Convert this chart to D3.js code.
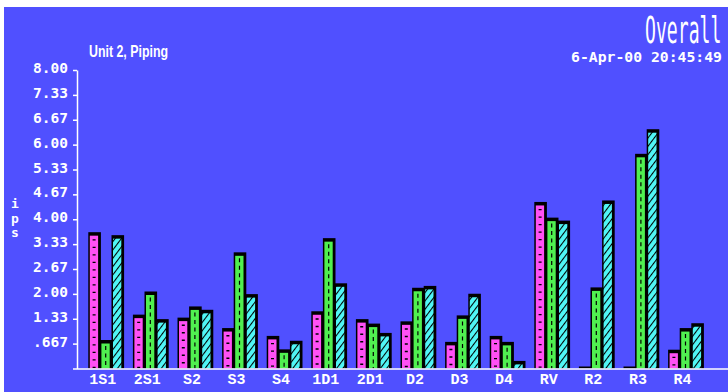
<!DOCTYPE html>
<html>
<head>
<meta charset="utf-8">
<script src="https://cdn.jsdelivr.net/npm/d3@7"></script>
<style>
  html, body { margin: 0; padding: 0; background: #ffffff; }
  svg { display: block; }
</style>
</head>
<body>
<svg id="chart" width="728" height="392"></svg>
<script>
// Measurement points along the piping run
const categories = ["1S1", "2S1", "S2", "S3", "S4", "1D1", "2D1", "D2", "D3", "D4", "RV", "R2", "R3", "R4"];

// Overall vibration (ips) for the three measurement directions
const seriesA = [3.60, 1.39, 1.31, 1.03, 0.82, 1.48, 1.27, 1.21, 0.66, 0.82, 4.41, 0.00, 0.00, 0.45];
const seriesB = [0.71, 2.01, 1.61, 3.06, 0.46, 3.44, 1.15, 2.11, 1.37, 0.66, 3.99, 2.12, 5.70, 1.03];
const seriesC = [3.52, 1.27, 1.52, 1.94, 0.69, 2.23, 0.90, 2.16, 1.95, 0.15, 3.91, 4.45, 6.36, 1.16];

const tickValues = [0.667, 1.333, 2.0, 2.667, 3.333, 4.0, 4.667, 5.333, 6.0, 6.667, 7.333, 8.0];
const tickLabels = [".667", "1.33", "2.00", "2.67", "3.33", "4.00", "4.67", "5.33", "6.00", "6.67", "7.33", "8.00"];

const series = [seriesA, seriesB, seriesC];
const fills = ["#ff50f4", "#50f050", "#50f6f6"];
const BG = "#5050ff";

const svg = d3.select("#chart");

// Screen background
svg.append("rect").attr("x", 4).attr("y", 7).attr("width", 724).attr("height", 385).attr("fill", BG);

// Diagonal hatch for the third series
const defs = svg.append("defs");
const hatch = defs.append("pattern")
  .attr("id", "hatch")
  .attr("patternUnits", "userSpaceOnUse")
  .attr("width", 5).attr("height", 10)
  .attr("patternTransform", "rotate(37)");
hatch.append("rect").attr("width", 5).attr("height", 10).attr("fill", fills[2]);
hatch.append("line").attr("x1", 0.5).attr("y1", 0).attr("x2", 0.5).attr("y2", 10)
  .attr("stroke", "#000").attr("stroke-width", 1.1);

const axisX = 77;
const baseY = 368.5;

const y = d3.scaleLinear().domain([0, 8]).range([baseY, 70]);

const x0 = d3.scaleBand()
  .domain(d3.range(categories.length))
  .range([83.4, 707.8])
  .paddingInner(0.22)
  .paddingOuter(0.11);

const x1 = d3.scaleBand().domain([0, 1, 2]).range([0, x0.bandwidth()]);

// Bars: one record per category/series
const bars = [];
categories.forEach((c, i) => {
  series.forEach((s, k) => bars.push({ i, k, v: s[i] }));
});

const g = svg.append("g");
const bw = x1.bandwidth();

const barG = g.selectAll("g.bar").data(bars).join("g").attr("class", "bar");

// black outline with heavy top edge
barG.append("rect")
  .attr("x", d => x0(d.i) + x1(d.k))
  .attr("y", d => y(d.v) - 2)
  .attr("width", bw + 1)
  .attr("height", d => baseY - y(d.v) + 2)
  .attr("fill", "#000");

// coloured fill
barG.append("rect")
  .attr("x", d => x0(d.i) + x1(d.k) + 1.5)
  .attr("y", d => y(d.v) + 1.5)
  .attr("width", bw - 3.3)
  .attr("height", d => Math.max(0, baseY - y(d.v) - 1.5))
  .attr("fill", d => d.k === 2 ? "url(#hatch)" : fills[d.k]);

// short dash marks for the first series
barG.filter(d => d.k === 0 && baseY - y(d.v) > 6).append("line")
  .attr("x1", d => x0(d.i) + x1(d.k) + bw / 2)
  .attr("x2", d => x0(d.i) + x1(d.k) + bw / 2)
  .attr("y1", d => y(d.v) + 5)
  .attr("y2", baseY)
  .attr("stroke", "#000")
  .attr("stroke-width", 3)
  .attr("stroke-dasharray", "1.4 6.1");

// dashed centre line for the second series
barG.filter(d => d.k === 1 && baseY - y(d.v) > 6).append("line")
  .attr("x1", d => x0(d.i) + x1(d.k) + bw / 2)
  .attr("x2", d => x0(d.i) + x1(d.k) + bw / 2)
  .attr("y1", d => y(d.v) + 4)
  .attr("y2", baseY)
  .attr("stroke", "#000")
  .attr("stroke-width", 1.2)
  .attr("stroke-dasharray", "4 3.5");

// Baseline
svg.append("line")
  .attr("x1", 73).attr("x2", 728)
  .attr("y1", baseY + 0.5).attr("y2", baseY + 0.5)
  .attr("stroke", "#fff").attr("stroke-width", 1.5);

// Y axis
const yAxis = d3.axisLeft(y)
  .tickValues(tickValues)
  .tickFormat((d, i) => tickLabels[i])
  .tickSize(4)
  .tickSizeOuter(0)
  .tickPadding(5);

const ya = svg.append("g").attr("transform", `translate(${axisX},0)`).call(yAxis);
ya.select(".domain").attr("stroke", "#fff").attr("stroke-width", 1.5);
ya.selectAll(".tick line").attr("stroke", "#fff").attr("stroke-width", 1.5);
ya.selectAll(".tick text")
  .attr("fill", "#fff")
  .attr("dy", "0.18em")
  .style("font-family", "'DejaVu Sans Mono', monospace")
  .style("font-weight", "bold")
  .style("font-size", "14.5px");

// Category labels
svg.append("g").selectAll("text").data(categories).join("text")
  .attr("x", (d, i) => x0(i) + x0.bandwidth() / 2 - 3)
  .attr("y", 384)
  .attr("text-anchor", "middle")
  .attr("fill", "#fff")
  .style("font-family", "'Liberation Mono', 'DejaVu Sans Mono', monospace")
  .style("font-weight", "bold")
  .style("font-size", "15px")
  .text(d => d);

// Y axis unit, stacked vertically
svg.append("g").selectAll("text").data(["i", "p", "s"]).join("text")
  .attr("x", 15)
  .attr("y", (d, i) => 208 + i * 14.5)
  .attr("text-anchor", "middle")
  .attr("fill", "#fff")
  .style("font-family", "'DejaVu Sans Mono', monospace")
  .style("font-weight", "bold")
  .style("font-size", "13px")
  .text(d => d);

// Titles
svg.append("text")
  .attr("x", 89).attr("y", 57)
  .attr("fill", "#fff")
  .attr("textLength", 79).attr("lengthAdjust", "spacingAndGlyphs")
  .style("font-family", "'Liberation Sans Narrow', 'Liberation Sans', Arial, sans-serif")
  .style("font-weight", "bold")
  .style("font-size", "17px")
  .text("Unit 2, Piping");

// tall, narrow heading: monospace squeezed horizontally
svg.append("text")
  .attr("transform", "translate(645,43) scale(0.49,1)")
  .attr("fill", "#fff")
  .style("font-family", "'DejaVu Sans Mono', monospace")
  .style("font-size", "37px")
  .text("Overall");

svg.append("text")
  .attr("x", 571).attr("y", 62)
  .attr("fill", "#fff")
  .attr("textLength", 151).attr("lengthAdjust", "spacingAndGlyphs")
  .style("font-family", "'DejaVu Sans Mono', monospace")
  .style("font-weight", "bold")
  .style("font-size", "14px")
  .text("6-Apr-00 20:45:49");
</script>
</body>
</html>
